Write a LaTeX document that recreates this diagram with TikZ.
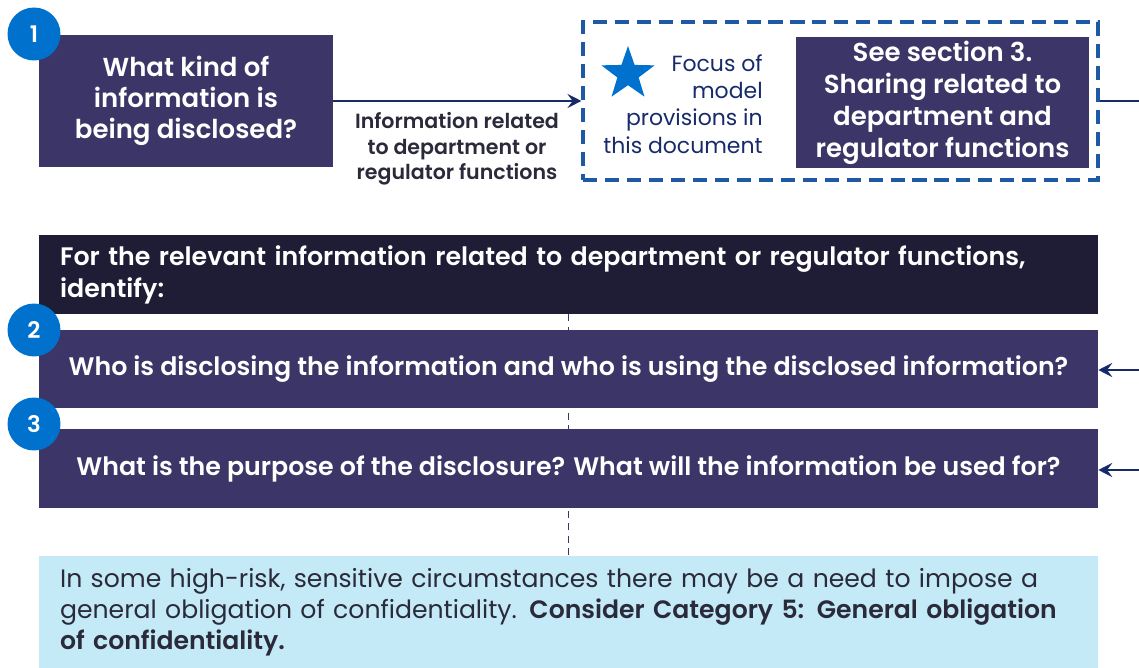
\documentclass[tikz,border=0pt]{standalone}
\usepackage{fontspec}
\setmainfont{Poppins}[BoldFont={Poppins SemiBold}]
\usepackage{tikz}
\usetikzlibrary{arrows.meta,positioning,shapes.geometric,backgrounds}

\definecolor{qpurple}{HTML}{3C3567}
\definecolor{headdark}{HTML}{1F1C35}
\definecolor{badgeblue}{HTML}{0072CE}
\definecolor{dashblue}{HTML}{1D5AA3}
\definecolor{linknavy}{HTML}{172B6B}
\definecolor{notecyan}{HTML}{C4EAF7}
\definecolor{labelgrey}{HTML}{2A2A3A}

\tikzset{
  qbox/.style={fill=qpurple, text=white, font=\bfseries, align=center, inner sep=0pt},
  badge/.style={circle, fill=badgeblue, text=white, minimum size=1.06cm, inner sep=0pt,
                font=\fontsize{13}{15}\selectfont\bfseries},
  link/.style={draw=linknavy, line width=1.2pt, >={Stealth[length=8pt,width=8pt,inset=3pt]}},
}

\begin{document}
\begin{tikzpicture}[x=0.02cm, y=-0.02cm]

    \useasboundingbox (0,0) rectangle (1139,668);

    % question 1
    \node[qbox, minimum width=5.88cm, minimum height=2.64cm,
          font=\fontsize{14.8}{17.6}\selectfont\bfseries] (q1) at (186,101)
          {What kind of\\information is\\being disclosed?};
    \node[badge] (b1) at (34,34) {1};

    % dashed focus area
    \node[draw=dashblue, line width=1.8pt, dash pattern=on 8pt off 4.5pt,
          minimum width=10.3cm, minimum height=3.16cm] (focus) at (840.5,101) {};
    \node[star, star points=5, star point ratio=2.5, fill=badgeblue,
          minimum size=1.12cm, inner sep=0pt] (star) at (628,74) {};
    \node[anchor=east, align=right, text=linknavy, inner sep=0pt,
          font=\fontsize{12.5}{15.5}\selectfont] (focustext) at (763,104)
          {Focus of\\model\\provisions in\\this document};
    \node[qbox, minimum width=5.86cm, minimum height=2.62cm,
          font=\fontsize{14.8}{18.2}\selectfont\bfseries] (sect) at (942.5,102.5)
          {See section 3.\\Sharing related to\\department and\\regulator functions};

    \draw[link, ->] (q1.east) -- (focus.west);
    \node[align=center, text=labelgrey, inner sep=0pt,
          font=\fontsize{11.7}{14.5}\selectfont\bfseries] (lbl) at (457,149)
          {Information related\\to department or\\regulator functions};

    \coordinate (outR1) at (1139,101);
    \draw[link] (focus.east) -- (outR1);

    % identify block
    \node[fill=headdark, text=white, align=left, inner xsep=0.42cm, inner ysep=0pt,
          text width=20.34cm, minimum height=1.58cm,
          font=\fontsize{14.4}{18.2}\selectfont\bfseries] (head) at (568.5,274.5)
          {For the relevant information related to department or regulator functions,\\identify:};

    \node[qbox, minimum width=21.18cm, minimum height=1.56cm,
          font=\fontsize{14.4}{16}\selectfont\bfseries] (q2) at (568.5,369)
          {Who is disclosing the information and who is using the disclosed information?};
    \node[badge] (b2) at (34,330) {2};

    \node[qbox, minimum width=21.18cm, minimum height=1.58cm,
          font=\fontsize{14.4}{16}\selectfont\bfseries] (q3) at (568.5,468.5)
          {What is the purpose of the disclosure? What will the information be used for?};
    \node[badge] (b3) at (34,424) {3};

    \coordinate (inR2) at (1139,370);
    \coordinate (inR3) at (1139,470);
    \draw[link, ->] (inR2) -- (q2.east |- inR2);
    \draw[link, ->] (inR3) -- (q3.east |- inR3);

    % note
    \node[fill=notecyan, text=labelgrey, align=left, inner xsep=0.42cm, inner ysep=0pt,
          text width=20.34cm, minimum height=2.24cm,
          font=\fontsize{14.3}{17.6}\selectfont] (note) at (568.5,612)
          {In some high-risk, sensitive circumstances there may be a need to impose a\\
           general obligation of confidentiality. \textbf{Consider Category 5: General obligation}\\
           \textbf{of confidentiality.}};

    \begin{scope}[on background layer]
      \draw[qpurple, line width=0.8pt, dash pattern=on 4pt off 3pt] (head.south) -- (note.north);
    \end{scope}

\end{tikzpicture}
\end{document}
